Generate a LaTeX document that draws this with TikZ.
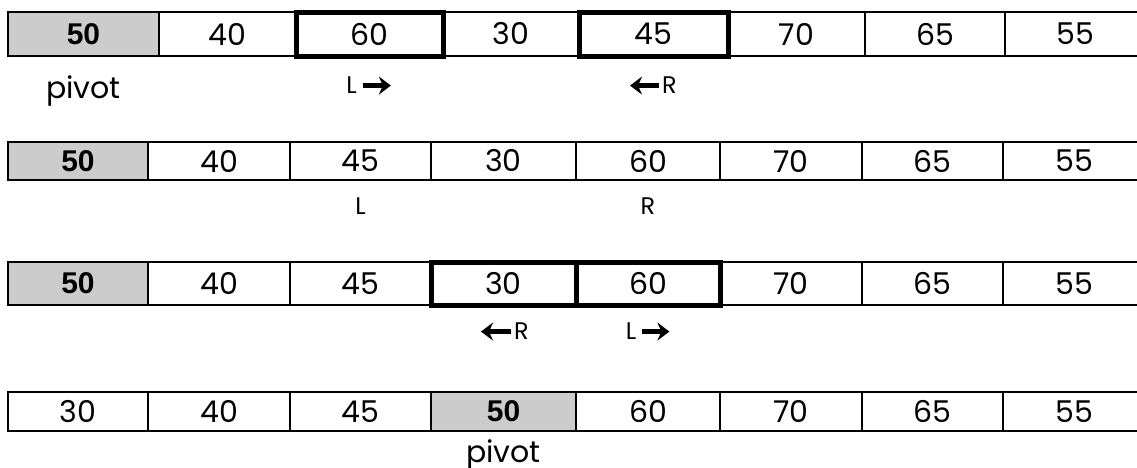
\documentclass[tikz,border=0pt]{standalone}
\usepackage{fontspec}
\setmainfont{Poppins}
\newfontfamily\heavyfont{Liberation Sans}
\usetikzlibrary{positioning,arrows.meta}

\tikzset{
	cell/.style={draw,line width=2pt,inner sep=0pt,outer sep=0pt,
		font=\fontsize{30}{36}\selectfont},
	pivcell/.style={cell,fill=gray!40,
		font=\heavyfont\bfseries\fontsize{30}{36}\selectfont},
	hilite/.style={line width=5pt},
	lab/.style={inner sep=0pt,font=\fontsize{24}{28}\selectfont},
	pivlab/.style={inner sep=0pt,font=\fontsize{30}{36}\selectfont},
	mv/.style={line width=5pt,-{Stealth[length=12pt,width=18pt,inset=4pt]}}
}

\begin{document}
\begin{tikzpicture}[x=1pt,y=-1pt]
	\useasboundingbox (0,0) rectangle (1137,467);

	% first pass: 60 and 45 are compared
	\foreach \a/\b/\v/\s [count=\i] in {8/159/50/pivcell,159/296/40/cell,296/443/60/cell,
		443/579/30/cell,579/728/45/cell,728/865/70/cell,865/1005/65/cell,1005/1145/55/cell}
		\node[\s,anchor=west,minimum width={(\b-\a)*1pt},minimum height=44pt] (r1c\i) at (\a,34) {\v};
	\draw[hilite] (r1c3.north west) rectangle (r1c3.south east);
	\draw[hilite] (r1c5.north west) rectangle (r1c5.south east);

	\node[pivlab,below=19pt of r1c1] (piv1) {pivot};
	\node[lab,below=21pt of r1c3,xshift=-18pt] (l1) {L};
	\coordinate[right=34pt of l1.east] (l1e);
	\draw[mv] ([xshift=6pt]l1.east) -- (l1e);
	\node[lab,below=21pt of r1c5,xshift=16pt] (r1) {R};
	\coordinate[left=32pt of r1.west] (r1e);
	\draw[mv] ([xshift=-3pt]r1.west) -- (r1e);

	% after the swap
	\foreach \a/\b/\v/\s [count=\i] in {8/148/50/pivcell,148/290/40/cell,290/431/45/cell,
		431/576/30/cell,576/720/60/cell,720/862/70/cell,862/1003/65/cell,1003/1145/55/cell}
		\node[\s,anchor=west,minimum width={(\b-\a)*1pt},minimum height=38pt] (r2c\i) at (\a,161) {\v};

	\node[lab,below=18pt of r2c3] (l2) {L};
	\node[lab,below=18pt of r2c5] (r2) {R};

	% pointers have crossed
	\foreach \a/\b/\v/\s [count=\i] in {8/148/50/pivcell,148/290/40/cell,290/431/45/cell,
		431/576/30/cell,576/720/60/cell,720/862/70/cell,862/1003/65/cell,1003/1145/55/cell}
		\node[\s,anchor=west,minimum width={(\b-\a)*1pt},minimum height=43pt] (r3c\i) at (\a,283.5) {\v};
	\draw[hilite] (r3c4.north west) rectangle (r3c5.south east);
	\draw[hilite] (r3c4.north east) -- (r3c4.south east);

	\node[lab,below=18pt of r3c4,xshift=18pt] (r3) {R};
	\coordinate[left=33pt of r3.west] (r3e);
	\draw[mv] ([xshift=-3pt]r3.west) -- (r3e);
	\node[lab,below=18pt of r3c5,xshift=-17pt] (l3) {L};
	\coordinate[right=33pt of l3.east] (l3e);
	\draw[mv] ([xshift=6pt]l3.east) -- (l3e);

	% pivot swapped into place
	\foreach \a/\b/\v/\s [count=\i] in {8/148/30/cell,148/290/40/cell,290/431/45/cell,
		431/576/50/pivcell,576/720/60/cell,720/862/70/cell,862/1003/65/cell,1003/1145/55/cell}
		\node[\s,anchor=west,minimum width={(\b-\a)*1pt},minimum height=39pt] (r4c\i) at (\a,411.5) {\v};

	\node[pivlab,below=8pt of r4c4] (piv4) {pivot};
\end{tikzpicture}
\end{document}
